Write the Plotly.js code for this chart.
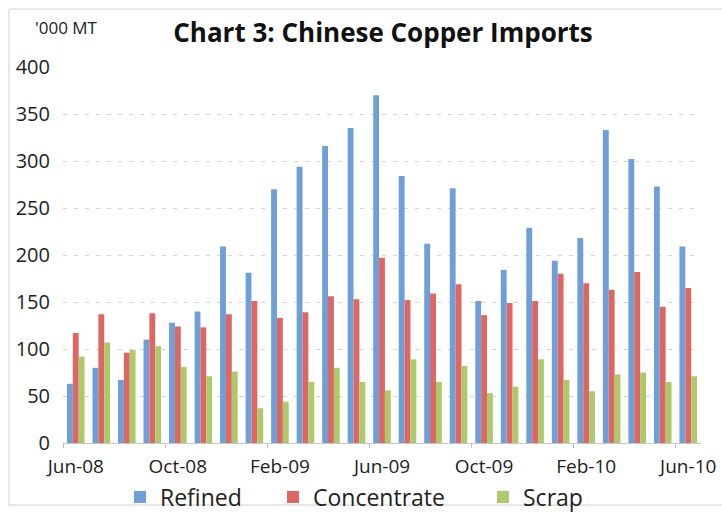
<!DOCTYPE html>
<html>
<head>
<meta charset="utf-8">
<script src="https://cdn.plot.ly/plotly-3.0.1.min.js"></script>
<style>html,body{margin:0;padding:0;background:#fff;}#chart{width:722px;height:514px;}</style>
</head>
<body>
<div id="chart"></div>
<script>
const months = ["Jun-08","Jul-08","Aug-08","Sep-08","Oct-08","Nov-08","Dec-08","Jan-09","Feb-09","Mar-09","Apr-09","May-09","Jun-09","Jul-09","Aug-09","Sep-09","Oct-09","Nov-09","Dec-09","Jan-10","Feb-10","Mar-10","Apr-10","May-10","Jun-10"];
const refined = [63, 80, 67, 110, 128, 140, 209, 181, 270, 294, 316, 335, 370, 284, 212, 271, 151, 184, 229, 194, 218, 333, 302, 273, 209];
const concentrate = [117, 137, 96, 138, 124, 123, 137, 151, 133, 139, 156, 153, 197, 152, 159, 169, 136, 149, 151, 180, 170, 163, 182, 145, 165];
const scrap = [92, 107, 99, 103, 81, 71, 76, 37, 44, 65, 80, 65, 56, 89, 65, 82, 53, 60, 89, 67, 55, 73, 75, 65, 71];
const seriesNames = ["Refined", "Concentrate", "Scrap"];
const colors = ["#6f9fd8", "#dc6763", "#acca6c"];
const legendIds = ["legend", "legend2", "legend3"];

const font = "'Open Sans', Lato, 'DejaVu Sans', sans-serif";
const traces = [refined, concentrate, scrap].map((vals, i) => ({
  type: "bar",
  name: seriesNames[i],
  x: months,
  y: vals,
  legend: legendIds[i],
  marker: {color: colors[i], line: {width: 0}},
  hoverinfo: "x+y+name"
}));

const L = 63, R = 21, T = 67, B = 71;
const pw = 722 - L - R, ph = 514 - T - B;
const px = v => (v - L) / pw;
const py = v => (514 - B - v) / ph;

const legendTextStart = [162, 315, 525];
function mkLegend(i) {
  return {
    orientation: "h",
    x: px(legendTextStart[i] - 42), xanchor: "left",
    y: py(497), yanchor: "middle",
    font: {family: font, size: 23, color: "#222"},
    itemwidth: 30,
    bgcolor: "rgba(0,0,0,0)",
    borderwidth: 0
  };
}

const layout = {
  width: 722, height: 514,
  margin: {l: L, r: R, t: T, b: B, pad: 0, autoexpand: false},
  paper_bgcolor: "#ffffff",
  plot_bgcolor: "#ffffff",
  barmode: "group",
  bargap: 0.31,
  bargroupgap: 0,
  showlegend: true,
  font: {family: font, color: "#222"},
  title: {
    text: "<b>Chart 3: Chinese Copper Imports</b>",
    font: {family: font, size: 26, color: "#111"},
    x: 383 / 722, xanchor: "center",
    y: 1 - 33 / 514, yanchor: "middle"
  },
  xaxis: {
    type: "category",
    range: [-0.5, 24.5],
    tickmode: "linear", tick0: 0, dtick: 4,
    tickson: "boundaries",
    tickangle: 0,
    automargin: false,
    ticks: "outside", ticklen: 4, tickcolor: "#bfbfbf", tickwidth: 1,
    showgrid: false,
    showline: true, linecolor: "#c8c8c8", linewidth: 1,
    tickfont: {family: font, size: 19, color: "#222"},
    ticklabelstandoff: 6,
    fixedrange: true
  },
  yaxis: {
    range: [0, 400],
    automargin: false,
    tickmode: "linear", tick0: 0, dtick: 50,
    showgrid: true, gridcolor: "#d4d4d4", gridwidth: 1, griddash: "4px,7px",
    zeroline: false,
    showline: false,
    ticks: "",
    tickfont: {family: font, size: 20, color: "#222"},
    ticklabelstandoff: 12,
    fixedrange: true
  },
  legend: mkLegend(0),
  legend2: mkLegend(1),
  legend3: mkLegend(2),
  annotations: [{
    text: "'000 MT",
    xref: "paper", yref: "paper",
    x: px(66), y: py(28),
    xanchor: "center", yanchor: "middle",
    showarrow: false,
    font: {family: font, size: 17, color: "#222"}
  }],
  shapes: [{
    type: "rect", xref: "paper", yref: "paper",
    x0: px(9), x1: px(730), y0: py(505), y1: py(9),
    line: {color: "#d0d0d0", width: 1},
    fillcolor: "rgba(0,0,0,0)",
    layer: "below"
  }]
};

Plotly.newPlot("chart", traces, layout, {displayModeBar: false, staticPlot: true});
</script>
</body>
</html>
